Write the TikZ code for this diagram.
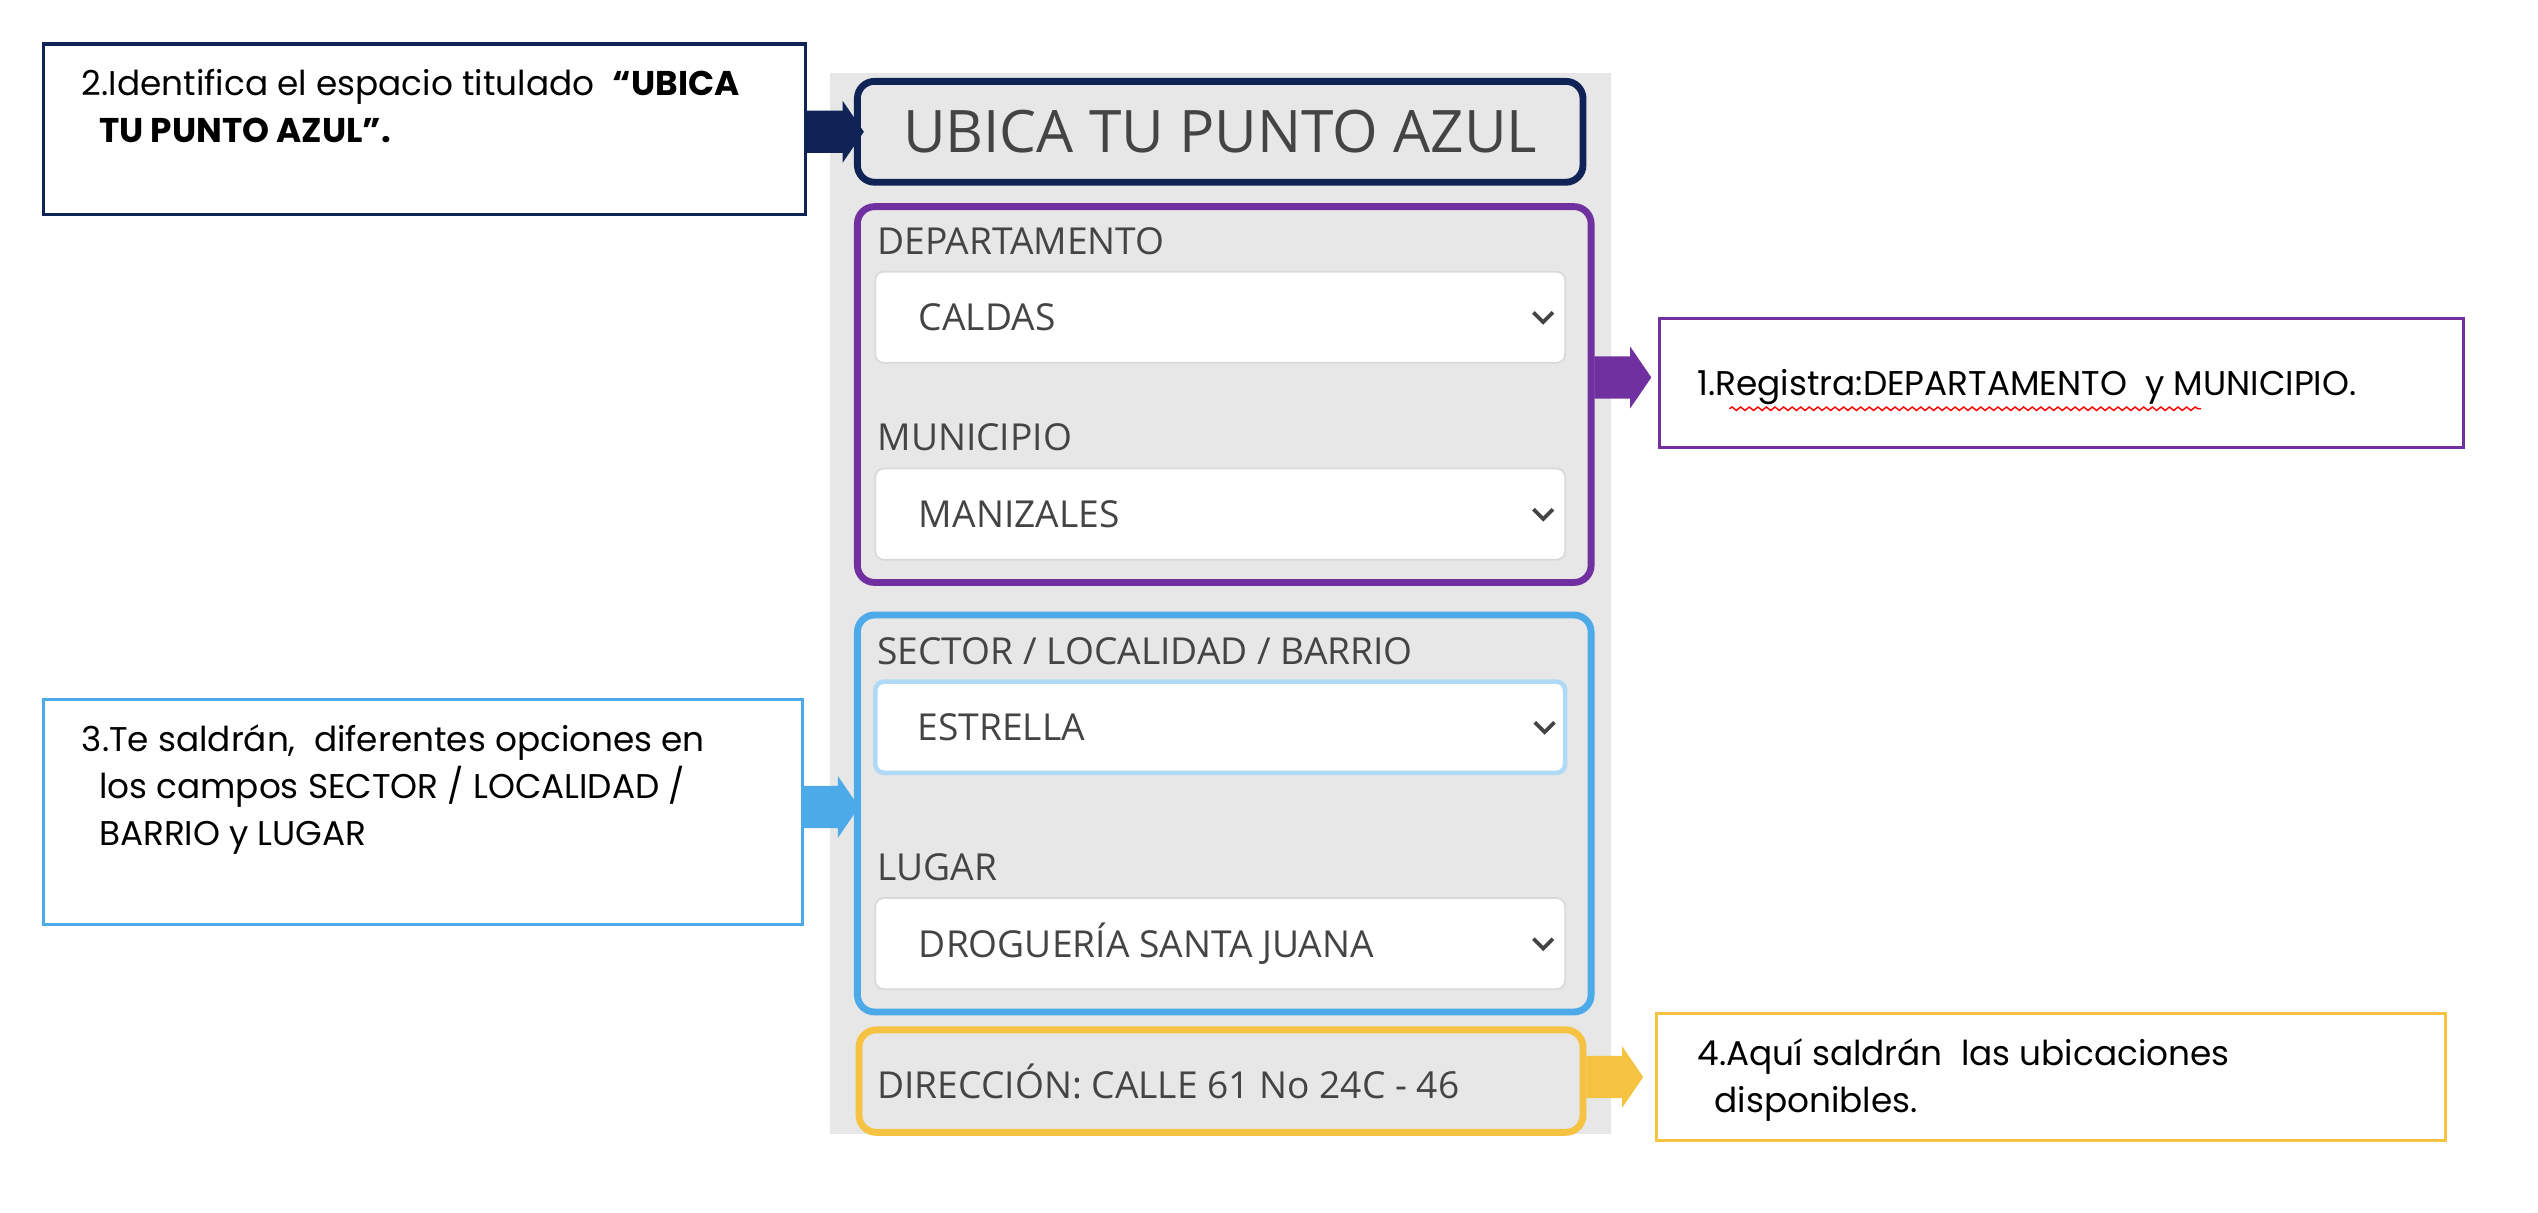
\documentclass[tikz,border=0pt]{standalone}
\usepackage{fontspec}
\setmainfont{Poppins}
\newfontfamily\uifont{Open Sans}
\usetikzlibrary{fit,calc,decorations.pathmorphing}
\definecolor{navy}{HTML}{0F2356}
\definecolor{purp}{HTML}{7030A0}
\definecolor{sky}{HTML}{4DAAE8}
\definecolor{gold}{HTML}{F5C242}
\definecolor{panel}{HTML}{E7E7E7}
\definecolor{uitext}{HTML}{444444}
\tikzset{
  zone/.style={draw=#1, line width=2.4pt, rounded corners=6pt, inner sep=0pt},
  callout/.style={draw=#1, line width=1.1pt, fill=white, inner sep=0pt},
  dropdown/.style={draw=black!15, line width=0.6pt, fill=white, rounded corners=3pt, inner sep=0pt},
  uilabel/.style={anchor=west, font=\uifont\fontsize{13}{15}\selectfont, text=uitext, inner sep=0pt},
  note/.style={anchor=north west, align=left, font=\fontsize{12}{16.5}\selectfont, inner sep=0pt},
}
% block arrow pointing right, tail centred at #2
\newcommand\blockarrow[2]{%
  \fill[#1] ($(#2)+(0,-13)$) -- ++(22,0) -- ++(0,-6) -- ++(13,19) -- ++(-13,19)
    -- ++(0,-6) -- ++(-22,0) -- cycle;}
\begin{document}
\begin{tikzpicture}[x=0.02cm, y=-0.02cm]
\useasboundingbox (0,0) rectangle (1560,745);
% panel
\fill[panel] (510,45) rectangle (990,697);
\node[zone=navy, fit={(527,50)(973,112)}] (title) {};
\node[font=\uifont\fontsize{20.5}{24}\selectfont, text=uitext] at (title.center) {UBICA TU PUNTO AZUL};
\node[zone=purp, fit={(527,127)(978,358)}] (place) {};
\node[zone=sky, fit={(527,378)(978,622)}] (sector) {};
\node[zone=gold, fit={(528,633)(973,696)}] (addr) {};
% fields
\node[uilabel] at (539,148) {DEPARTAMENTO};
\node[dropdown, fit={(538,167)(962,223)}] (dep) {};
\node[uilabel] at (539,269) {MUNICIPIO};
\node[dropdown, fit={(538,288)(962,344)}] (mun) {};
\node[uilabel] at (539,400) {SECTOR / LOCALIDAD / BARRIO};
\node[dropdown, draw=sky!45, line width=1.6pt, fit={(538,419)(962,475)}] (sec) {};
\node[uilabel] at (539,533) {LUGAR};
\node[dropdown, fit={(538,552)(962,608)}] (lug) {};
\node[uilabel] at (539,665) {DIRECCIÓN: CALLE 61 No 24C - 46};
\foreach \dd/\txt in {dep/CALDAS, mun/MANIZALES, sec/ESTRELLA, lug/DROGUERÍA SANTA JUANA} {
  \node[uilabel] at ($(\dd.west)+(27,0)$) {\txt};
  \draw[line width=1.3pt, uitext] ($(\dd.east)+(-20,-3)$) -- ($(\dd.east)+(-14,3)$) -- ($(\dd.east)+(-8,-3)$);
}
% callouts
\node[callout=navy, fit={(27,27)(495,132)}] (c2) {};
\node[note] at (50,42) {2.Identifica el espacio titulado \ \textbf{“UBICA}\\\hspace*{0.5em}\textbf{TU PUNTO AZUL”.}};
\coordinate (a2) at (c2.east |- title.center);
\blockarrow{navy}{a2}
\node[callout=purp, fit={(1020,196)(1514,275)}] (c1) {};
\node[note, anchor=west] (t1) at (1043,238) {1.Registra:DEPARTAMENTO \ y MUNICIPIO.};
\draw[red, line width=0.5pt, decorate, decoration={snake, amplitude=0.6pt, segment length=3pt}]
  ($(t1.south west)+(20,2)$) -- ($(t1.south west)+(310,2)$);
\coordinate (a1) at (980,232);
\blockarrow{purp}{a1}
\node[callout=sky, fit={(27,430)(493,568)}] (c3) {};
\node[note] at (50,445) {3.Te saldrán, \ diferentes opciones en\\\hspace*{0.5em}los campos SECTOR / LOCALIDAD /\\\hspace*{0.5em}BARRIO y LUGAR};
\coordinate (a3) at (493,496);
\blockarrow{sky}{a3}
\node[callout=gold, fit={(1018,623)(1503,701)}] (c4) {};
\node[note] at (1043,638) {4.Aquí saldrán \ las ubicaciones\\\hspace*{0.5em}disponibles.};
\coordinate (a4) at (975,662);
\blockarrow{gold}{a4}
\end{tikzpicture}
\end{document}
